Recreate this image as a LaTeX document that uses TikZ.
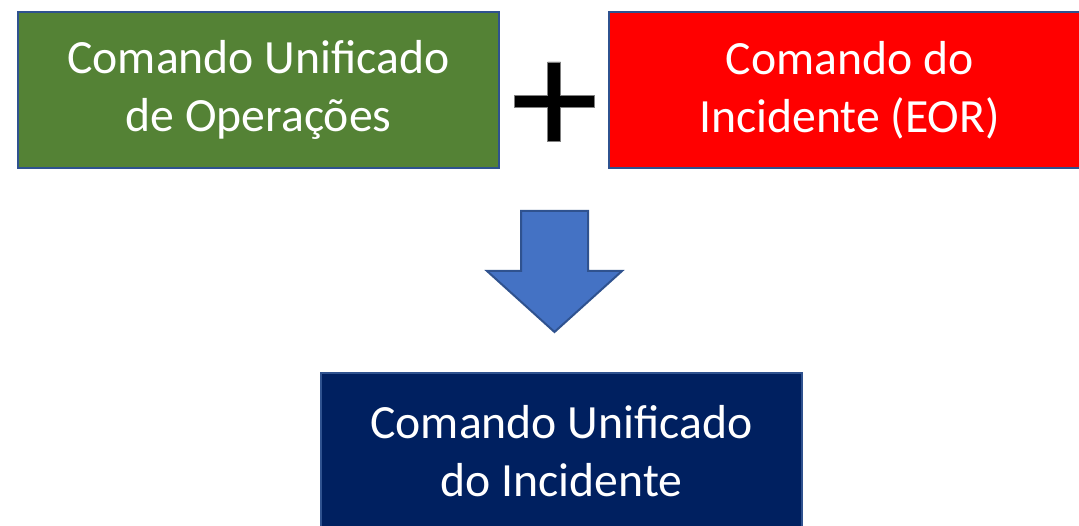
\documentclass[tikz,border=0pt]{standalone}
\usepackage{fontspec}
\setmainfont{Carlito}
\usepackage{tikz}
\usetikzlibrary{positioning,calc}
\definecolor{cmdgreen}{HTML}{548235}
\definecolor{cmdred}{HTML}{FF0000}
\definecolor{cmdnavy}{HTML}{002060}
\definecolor{arrowblue}{HTML}{4472C4}
\definecolor{edgeblue}{HTML}{2F528F}
\tikzset{
  cmdbox/.style={
    draw=edgeblue,
    line width=2pt,
    text=white,
    minimum width=481pt,
    minimum height=156pt,
    align=center,
    font=\fontsize{47.7}{58}\selectfont
  }
}

\begin{document}
\begin{tikzpicture}[x=1pt,y=-1pt]
        \clip (0,0) rectangle (1079,526);
        \fill[white] (0,0) rectangle (1079,526);
        % the two commands that join
        \node[cmdbox, fill=cmdgreen] (unified) at (258.5,90) {Comando Unificado\\de Operações};
        \node[cmdbox, fill=cmdred, right=108pt of unified] (incident) {Comando do\\Incidente (EOR)};
        % plus sign between them
        \coordinate (plus) at ($(unified.east)!0.5!(incident.west)+(0,11.5)$);
        \fill[black, draw=black!50, line width=0.6pt]
          ($(plus)+(-6.5,-39.5)$) -- ++(13,0) -- ++(0,33.5) -- ++(33.5,0) -- ++(0,12)
          -- ++(-33.5,0) -- ++(0,33.5) -- ++(-13,0) -- ++(0,-33.5) -- ++(-33.5,0)
          -- ++(0,-12) -- ++(33.5,0) -- cycle;
        % result
        \node[cmdbox, fill=cmdnavy] (result) at (561.5,451) {Comando Unificado\\do Incidente};
        % block arrow down
        \coordinate (tip) at (554.5,332);
        \fill[arrowblue, draw=edgeblue, line width=2pt, line join=miter]
          ($(tip)+(-33.5,-121)$) -- ++(67,0) -- ++(0,60) -- ++(34,0)
          -- (tip) -- ($(tip)+(-67.5,-61)$) -- ++(34,0) -- cycle;
      \end{tikzpicture}
\end{document}
